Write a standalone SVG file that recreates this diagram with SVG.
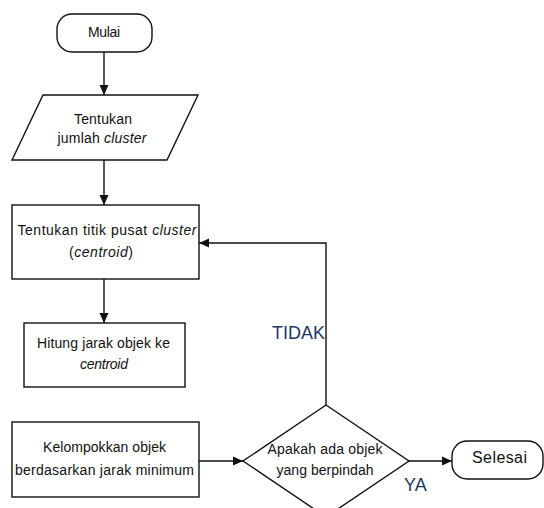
<svg xmlns="http://www.w3.org/2000/svg" width="544" height="508" viewBox="0 0 544 508">
<defs>
<style>
.shape{fill:#fff;stroke:#111;stroke-width:1.4}
.line{fill:none;stroke:#111;stroke-width:1.4}
.t{font-family:"Liberation Sans",Arial,sans-serif;font-size:14px;fill:#111;text-anchor:middle}
.i{font-style:italic}
.lbl{font-family:"Liberation Sans",Arial,sans-serif;font-size:18px;fill:#1f3864}
</style>
<marker id="ah" markerUnits="userSpaceOnUse" markerWidth="10" markerHeight="10" viewBox="0 0 10 10" refX="10" refY="5" orient="auto">
<path d="M0,0.5 L10,5 L0,9.5 Z" fill="#111"/>
</marker>
</defs>
<rect width="544" height="508" fill="#fff"/>
<g id="connectors">
<line class="line" x1="104" y1="52" x2="104" y2="95" marker-end="url(#ah)"/>
<line class="line" x1="104" y1="160" x2="104" y2="205" marker-end="url(#ah)"/>
<line class="line" x1="104" y1="279" x2="104" y2="323" marker-end="url(#ah)"/>
<line class="line" x1="199" y1="461" x2="243" y2="461" marker-end="url(#ah)"/>
<line class="line" x1="409" y1="461" x2="452" y2="461" marker-end="url(#ah)"/>
<polyline class="line" points="326,405 326,243 199,243" marker-end="url(#ah)"/>
<text class="lbl" x="325" y="339" text-anchor="end">TIDAK</text>
<text class="lbl" x="404" y="491">YA</text>
</g>
<g id="mulai">
<rect class="shape" x="57" y="14" width="95" height="38" rx="15" ry="15"/>
<text class="t" x="104" y="37" textLength="32">Mulai</text>
</g>
<g id="jumlah-cluster">
<polygon class="shape" points="43,95 198,95 167,160 12,160"/>
<text class="t" x="103" y="124" textLength="58">Tentukan</text>
<text class="t" x="102" y="143" textLength="89">jumlah <tspan class="i">cluster</tspan></text>
</g>
<g id="titik-pusat">
<rect class="shape" x="12" y="205" width="187" height="74"/>
<text class="t" x="107" y="235" textLength="179">Tentukan titik pusat <tspan class="i">cluster</tspan></text>
<text class="t" x="101" y="257" textLength="64">(<tspan class="i">centroid</tspan>)</text>
</g>
<g id="hitung-jarak">
<rect class="shape" x="24" y="323" width="161" height="64"/>
<text class="t" x="103.5" y="348" textLength="133">Hitung jarak objek ke</text>
<text class="t i" x="104" y="369" textLength="48">centroid</text>
</g>
<g id="kelompokkan">
<rect class="shape" x="12" y="422" width="187" height="75"/>
<text class="t" x="104.5" y="452" textLength="123">Kelompokkan objek</text>
<text class="t" x="104.5" y="475" textLength="179">berdasarkan jarak minimum</text>
</g>
<g id="keputusan">
<polygon class="shape" points="326,405 409,461 326,517 243,461"/>
<text class="t" x="325" y="454" textLength="115">Apakah ada objek</text>
<text class="t" x="325" y="475" textLength="97">yang berpindah</text>
</g>
<g id="selesai">
<rect class="shape" x="452" y="441" width="91" height="38" rx="15" ry="15"/>
<text class="t" x="499.5" y="463" style="font-size:16px" textLength="55">Selesai</text>
</g>
</svg>
